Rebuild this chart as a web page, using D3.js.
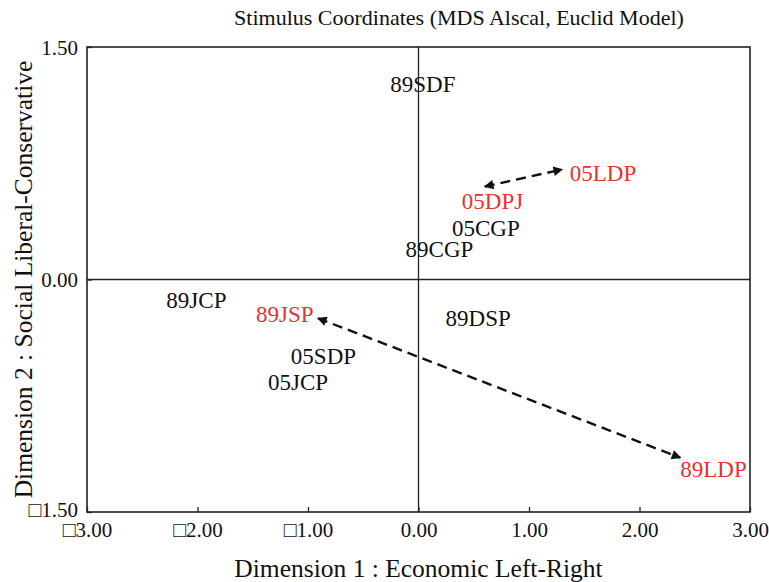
<!DOCTYPE html>
<html lang="en">
<head>
  <meta charset="UTF-8">
  <title>Stimulus Coordinates</title>
  <script src="https://d3js.org/d3.v7.min.js"></script>
  <style>
    body { margin: 0; background: #fff; }
    svg { display: block; font-family: "Liberation Serif", "DejaVu Serif", serif; }
  </style>
</head>
<body>
  <svg width="769" height="582"></svg>
  <script>
    // party labels with their positions in the MDS space
    const parties = ["89SDF", "05LDP", "05DPJ", "05CGP", "89CGP", "89JCP", "89JSP", "89DSP", "05SDP", "05JCP", "89LDP"];
    const dim1 = [0.04, 1.67, 0.67, 0.61, 0.19, -2.01, -1.21, 0.54, -0.86, -1.09, 2.67];
    const dim2 = [1.26, 0.69, 0.51, 0.33, 0.20, -0.13, -0.22, -0.25, -0.49, -0.66, -1.22];
    const highlighted = ["05LDP", "05DPJ", "89JSP", "89LDP"];

    // double-headed dashed arrows [x1, y1, x2, y2]
    const arrows = [
      [0.60, 0.60, 1.30, 0.71],
      [-0.91, -0.25, 2.37, -1.15]
    ];

    const xTicks = [-3, -2, -1, 0, 1, 2, 3];
    const xTickLabels = ["\u25A13.00", "\u25A12.00", "\u25A11.00", "0.00", "1.00", "2.00", "3.00"];
    const yTicks = [1.5, 0, -1.5];
    const yTickLabels = ["1.50", "0.00", "\u25A11.50"];

    const svg = d3.select("svg");
    const margin = { top: 47, right: 19, bottom: 70, left: 87 };
    const width = 769, height = 582;

    const x = d3.scaleLinear().domain([-3, 3]).range([margin.left, width - margin.right]);
    const y = d3.scaleLinear().domain([-1.5, 1.5]).range([height - margin.bottom, margin.top]);

    svg.append("defs").append("marker")
      .attr("id", "head")
      .attr("viewBox", "0 0 10 10")
      .attr("refX", 9).attr("refY", 5)
      .attr("markerWidth", 5).attr("markerHeight", 4)
      .attr("orient", "auto-start-reverse")
      .append("path")
      .attr("d", "M0,0 L10,5 L0,10 Z")
      .attr("fill", "#111");

    // frame
    svg.append("rect")
      .attr("x", x(-3)).attr("y", y(1.5))
      .attr("width", x(3) - x(-3)).attr("height", y(-1.5) - y(1.5))
      .attr("fill", "none").attr("stroke", "#222").attr("stroke-width", 1.6);

    // zero lines
    svg.append("line")
      .attr("x1", x(0)).attr("x2", x(0)).attr("y1", y(1.5)).attr("y2", y(-1.5))
      .attr("stroke", "#222").attr("stroke-width", 1.3);
    svg.append("line")
      .attr("x1", x(-3)).attr("x2", x(3)).attr("y1", y(0)).attr("y2", y(0))
      .attr("stroke", "#222").attr("stroke-width", 1.3);

    // bottom axis (inner ticks)
    const xAxis = svg.append("g")
      .attr("transform", `translate(0,${y(-1.5)})`)
      .call(d3.axisBottom(x).tickValues(xTicks).tickSizeInner(-5).tickSizeOuter(0)
        .tickFormat((d, i) => xTickLabels[i]));
    xAxis.select(".domain").remove();
    xAxis.selectAll("line").attr("stroke", "#222").attr("stroke-width", 1.3);
    xAxis.selectAll("text")
      .attr("font-family", "Liberation Serif, serif")
      .attr("font-size", 21).attr("fill", "#111")
      .attr("y", 10);

    // left axis
    const yAxis = svg.append("g")
      .attr("transform", `translate(${x(-3)},0)`)
      .call(d3.axisLeft(y).tickValues(yTicks).tickSizeInner(-5).tickSizeOuter(0)
        .tickFormat((d, i) => yTickLabels[i]));
    yAxis.select(".domain").remove();
    yAxis.selectAll("line").attr("stroke", "#222").attr("stroke-width", 1.3);
    yAxis.selectAll("text")
      .attr("font-family", "Liberation Serif, serif")
      .attr("font-size", 21).attr("fill", "#111")
      .attr("x", -9).attr("dy", (d, i) => i === yTicks.length - 1 ? "0.2em" : "0.35em");

    // arrows
    svg.selectAll(".arrow").data(arrows).join("line")
      .attr("class", "arrow")
      .attr("x1", d => x(d[0])).attr("y1", d => y(d[1]))
      .attr("x2", d => x(d[2])).attr("y2", d => y(d[3]))
      .attr("stroke", "#111").attr("stroke-width", 2.4)
      .attr("stroke-dasharray", "10,6")
      .attr("marker-start", "url(#head)")
      .attr("marker-end", "url(#head)");

    // party labels
    svg.selectAll(".party").data(parties).join("text")
      .attr("class", "party")
      .attr("x", (d, i) => x(dim1[i]))
      .attr("y", (d, i) => y(dim2[i]))
      .attr("dy", "0.35em")
      .attr("text-anchor", "middle")
      .attr("font-size", 23)
      .attr("fill", d => highlighted.includes(d) ? "#e5332f" : "#111")
      .text(d => d);

    // title and axis titles
    svg.append("text")
      .attr("x", 459).attr("y", 25)
      .attr("text-anchor", "middle").attr("font-size", 22).attr("fill", "#111")
      .text("Stimulus Coordinates (MDS Alscal, Euclid Model)");

    svg.append("text")
      .attr("x", x(0)).attr("y", 577)
      .attr("text-anchor", "middle").attr("font-size", 25.5).attr("fill", "#111")
      .text("Dimension 1 : Economic Left-Right");

    svg.append("text")
      .attr("transform", `translate(32,${y(0)}) rotate(-90)`)
      .attr("text-anchor", "middle").attr("font-size", 25.5).attr("fill", "#111")
      .text("Dimension 2 : Social Liberal-Conservative");
  </script>
</body>
</html>
